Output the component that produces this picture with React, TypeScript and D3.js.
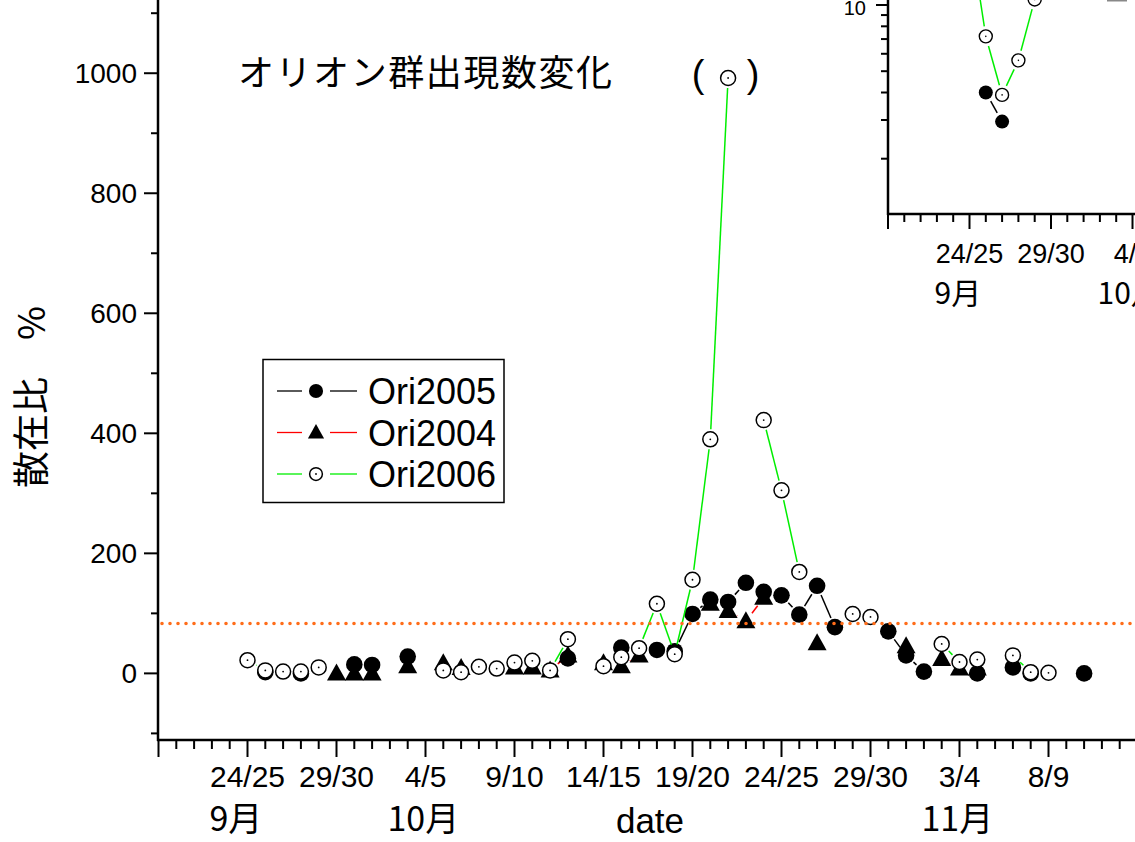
import React from 'react';
import * as d3 from 'd3';

// day index: 0 = night of 9/24-25, 1 = 9/25-26, ...
const tickLabels = ["24/25", "29/30", "4/5", "9/10", "14/15", "19/20", "24/25", "29/30", "3/4", "8/9"];
const monthLabels = ["9月", "10月", "11月"];
const monthDays = [0, 10, 40];

const ori2005Days = [1, 3, 6, 7, 9, 18, 21, 23, 24, 25, 26, 27, 28, 29, 30, 31, 32, 33, 36, 37, 38, 41, 43, 44, 47];
const ori2005Values = [2, 0, 15, 14, 28, 25, 43, 39, 37, 99, 123, 119, 151, 136, 130, 98, 146, 77, 70, 30, 3, 0, 10, 0, 0];

const ori2004Days = [5, 6, 7, 9, 11, 12, 15, 16, 17, 18, 20, 21, 22, 26, 27, 28, 29, 32, 37, 39, 40, 41];
const ori2004Values = [0, 0, 0, 12, 17, 9, 10, 10, 5, 30, 17, 12, 30, 116, 104, 87, 126, 50, 45, 24, 8, 8];

const ori2006Days = [0, 1, 2, 3, 4, 11, 12, 13, 14, 15, 16, 17, 18, 20, 21, 22, 23, 24, 25, 26, 27, 29, 30, 31, 34, 35, 39, 40, 41, 43, 44, 45];
const ori2006Values = [22, 5, 3, 3, 10, 5, 2, 11, 8, 18, 21, 5, 57, 12, 27, 42, 116, 32, 156, 390, 992, 422, 305, 169, 99, 94, 49, 19, 23, 30, 2, 1];

// inset (log scale, first nights)
const insetTickLabels = ["24/25", "29/30", "4/5"];
const inset2006Days = [0, 1, 2, 3, 4];
const inset2006Values = [22, 7.2, 3.9, 5.6, 10.6];
const inset2005Days = [1, 2];
const inset2005Values = [4.0, 2.95];

const thresholdValue = 83;

const FONT = "'Liberation Sans', Arial, 'Noto Sans CJK JP', sans-serif";
const CJK = "'Noto Sans CJK JP', 'Liberation Sans', sans-serif";

const series = [
  { name: "Ori2005", days: ori2005Days, values: ori2005Values, color: "#000000", kind: "dot" },
  { name: "Ori2004", days: ori2004Days, values: ori2004Values, color: "#ff0000", kind: "tri" },
  { name: "Ori2006", days: ori2006Days, values: ori2006Values, color: "#00ee00", kind: "open" },
];

// line pieces between consecutive nights, with a gap around each symbol
function segments(days, values, sx, sy, gap) {
  const out = [];
  for (let i = 0; i < days.length - 1; i++) {
    if (days[i + 1] !== days[i] + 1) continue;
    const x1 = sx(days[i]), y1 = sy(values[i]), x2 = sx(days[i + 1]), y2 = sy(values[i + 1]);
    const len = Math.hypot(x2 - x1, y2 - y1);
    if (len <= 2 * gap) continue;
    const ux = (x2 - x1) / len, uy = (y2 - y1) / len;
    out.push([x1 + ux * gap, y1 + uy * gap, x2 - ux * gap, y2 - uy * gap]);
  }
  return out;
}

const Marker = ({ kind, x, y, s = 1 }) => {
  if (kind === "dot") return <circle cx={x} cy={y} r={8.3 * s} fill="#000" />;
  if (kind === "tri")
    return <path d={`M${x},${y - 10 * s}L${x + 9.5 * s},${y + 7 * s}L${x - 9.5 * s},${y + 7 * s}Z`} fill="#000" />;
  return (
    <g>
      <circle cx={x} cy={y} r={7.5 * s} fill="#fff" stroke="#000" strokeWidth={1.5} />
      <circle cx={x} cy={y} r={0.9} fill="#000" />
    </g>
  );
};

const App = () => {
  const W = 1135, H = 842;
  const x = d3.scaleLinear().domain([-5, 50]).range([158.5, 1137.5]);
  const y = d3.scaleLinear().domain([-111, 1122]).range([740, 0]);
  const axisY = 740, axisX = 158;

  const yTicks = d3.range(-100, 1101, 100);
  const xTicks = d3.range(-5, 51, 1);

  // inset scales
  const ix = d3.scaleLinear().domain([-5, 10]).range([888, 1132.5]);
  const iy = d3.scaleLog().domain([2, 10]).range([158.7, 5]);
  const iAxisY = 214, iAxisX = 888;
  const iyTicks = d3.range(2, 11, 1);
  const ixTicks = d3.range(-5, 16, 1);

  const legendRows = [391, 432.5, 474];

  return (
    <svg width={W} height={H} style={{ position: 'absolute', left: 0, top: 0, background: '#fff' }}
      fontFamily={FONT}>
      <defs>
        <clipPath id="insetClip">
          <rect x={iAxisX + 1} y={-100} width={400} height={iAxisY + 99} />
        </clipPath>
      </defs>
      <rect width={W} height={H} fill="#fff" />

      {/* main axes */}
      <line x1={axisX} y1={0} x2={axisX} y2={axisY + 1} stroke="#000" strokeWidth={2.5} />
      <line x1={axisX - 1} y1={axisY} x2={W} y2={axisY} stroke="#000" strokeWidth={2.5} />
      {yTicks.map(v => (
        <line key={v} x1={axisX} x2={axisX - (v % 200 === 0 ? 14 : 7)} y1={y(v)} y2={y(v)}
          stroke="#000" strokeWidth={2} />
      ))}
      {yTicks.filter(v => v % 200 === 0 && v >= 0).map(v => (
        <text key={v} x={137} y={y(v) + 10} fontSize={28} textAnchor="end">{v}</text>
      ))}
      {xTicks.map(d => (
        <line key={d} x1={x(d)} x2={x(d)} y1={axisY} y2={axisY + (d % 5 === 0 ? 17 : 9)}
          stroke="#000" strokeWidth={2} />
      ))}
      {tickLabels.map((t, i) => (
        <text key={i} x={x(i * 5)} y={787} fontSize={30} textAnchor="middle">{t}</text>
      ))}
      {monthLabels.map((t, i) => (
        <text key={t} x={x(monthDays[i]) - 38} y={831} fontSize={34} fontFamily={CJK}>{t}</text>
      ))}
      <text x={650} y={833} fontSize={35} textAnchor="middle">date</text>
      <text transform="translate(45,397) rotate(-90)" fontSize={37} textAnchor="middle" fontFamily={CJK}>散在比　%</text>

      {/* title */}
      <text x={238} y={86} fontSize={36} fontFamily={CJK} textLength={374} lengthAdjust="spacing">オリオン群出現数変化</text>
      <text x={698} y={87} fontSize={38} textAnchor="middle">(</text>
      <text x={753} y={87} fontSize={38} textAnchor="middle">)</text>

      {/* series */}
      {series.map(s => (
        <g key={s.name}>
          {segments(s.days, s.values, x, y, 10).map((p, i) => (
            <line key={i} x1={p[0]} y1={p[1]} x2={p[2]} y2={p[3]} stroke={s.color} strokeWidth={1.5} />
          ))}
          {s.days.map((d, i) => (
            <Marker key={i} kind={s.kind} x={x(d)} y={y(s.values[i])} />
          ))}
        </g>
      ))}

      {/* threshold */}
      <line x1={axisX + 4} x2={W} y1={y(thresholdValue)} y2={y(thresholdValue)}
        stroke="#ff6d1a" strokeWidth={3.6} strokeDasharray="0 8" strokeLinecap="round" />

      {/* legend */}
      <rect x={263} y={359.5} width={241} height={143} fill="#fff" stroke="#000" strokeWidth={1.5} />
      {series.map((s, i) => (
        <g key={s.name}>
          <line x1={277} x2={302} y1={legendRows[i]} y2={legendRows[i]} stroke={s.color} strokeWidth={1.3} />
          <line x1={330} x2={357} y1={legendRows[i]} y2={legendRows[i]} stroke={s.color} strokeWidth={1.3} />
          <Marker kind={s.kind} x={316} y={legendRows[i]} s={0.85} />
          <text x={368} y={legendRows[i] + 13} fontSize={36}>{s.name}</text>
        </g>
      ))}

      {/* inset */}
      <g>
        <g clipPath="url(#insetClip)">
          {segments(inset2006Days, inset2006Values, ix, iy, 10).map((p, i) => (
            <line key={'g' + i} x1={p[0]} y1={p[1]} x2={p[2]} y2={p[3]} stroke="#00ee00" strokeWidth={1.5} />
          ))}
          {segments(inset2005Days, inset2005Values, ix, iy, 10).map((p, i) => (
            <line key={'k' + i} x1={p[0]} y1={p[1]} x2={p[2]} y2={p[3]} stroke="#000" strokeWidth={1.5} />
          ))}
          {inset2005Days.map((d, i) => (
            <circle key={'f' + i} cx={ix(d)} cy={iy(inset2005Values[i])} r={7} fill="#000" />
          ))}
          {inset2006Days.map((d, i) => (
            <g key={'o' + i}>
              <circle cx={ix(d)} cy={iy(inset2006Values[i])} r={6.5} fill="#fff" stroke="#000" strokeWidth={1.4} />
              <circle cx={ix(d)} cy={iy(inset2006Values[i])} r={0.8} fill="#000" />
            </g>
          ))}
        </g>
        <line x1={iAxisX} y1={0} x2={iAxisX} y2={iAxisY + 1} stroke="#000" strokeWidth={2.5} />
        <line x1={iAxisX - 1} y1={iAxisY} x2={W} y2={iAxisY} stroke="#000" strokeWidth={2.5} />
        {iyTicks.map(v => (
          <line key={v} x1={iAxisX} x2={iAxisX - (v === 10 ? 12 : 7)} y1={iy(v)} y2={iy(v)}
            stroke="#000" strokeWidth={2} />
        ))}
        <text x={866} y={iy(10) + 10} fontSize={20} textAnchor="end">10</text>
        {ixTicks.map(d => (
          <line key={d} x1={ix(d)} x2={ix(d)} y1={iAxisY} y2={iAxisY + (d % 5 === 0 ? 15 : 8)}
            stroke="#000" strokeWidth={2} />
        ))}
        {insetTickLabels.map((t, i) => (
          <text key={i} x={ix(i * 5)} y={263} fontSize={27} textAnchor="middle">{t}</text>
        ))}
        {monthLabels.slice(0, 2).map((t, i) => (
          <text key={t} x={ix(monthDays[i]) - 35} y={304} fontSize={30} fontFamily={CJK}>{t}</text>
        ))}
        <line x1={1107} x2={1127} y1={0.5} y2={0.5} stroke="#888" strokeWidth={2} />
      </g>
    </svg>
  );
};

export default App;
